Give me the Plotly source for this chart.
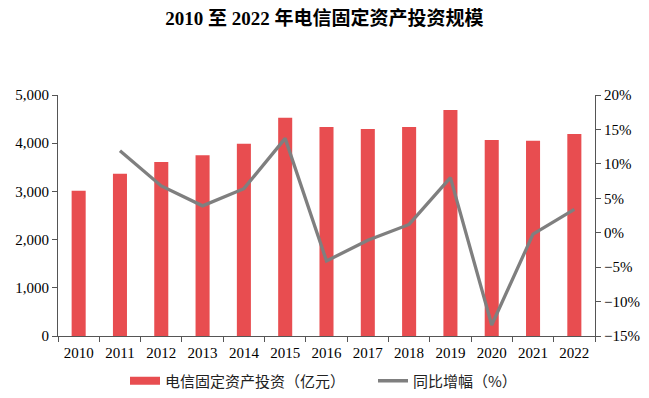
import plotly.graph_objects as go

years = ["2010", "2011", "2012", "2013", "2014", "2015", "2016",
         "2017", "2018", "2019", "2020", "2021", "2022"]
investment = [3015, 3368, 3610, 3749, 3990, 4530, 4336,
              4295, 4336, 4689, 4066, 4052, 4191]
growth = [None, 11.9, 6.8, 3.9, 6.4, 13.7, -4.1,
          -1.1, 1.2, 8.0, -13.4, -0.2, 3.4]

BAR_COLOR = "#E84D50"
LINE_COLOR = "#7F7F7F"
FONT = "Liberation Serif, Times New Roman, Noto Sans CJK SC, serif"
LEG_FONT = dict(family="Noto Sans CJK SC, sans-serif", size=15, color="#222")

fig = go.Figure()
fig.add_trace(go.Bar(
    x=years, y=investment, name="电信固定资产投资（亿元）",
    marker=dict(color=BAR_COLOR, line=dict(width=0)),
    yaxis="y", showlegend=False,
))
# legend swatch for the bars (wide rectangle like the reference)
fig.add_trace(go.Scatter(
    x=[years[0]], y=[None], name="电信固定资产投资（亿元）", mode="lines",
    line=dict(color=BAR_COLOR, width=8), yaxis="y", showlegend=True,
    legend="legend",
))
fig.add_trace(go.Scatter(
    x=years, y=growth, name="同比增幅（%）", mode="lines",
    line=dict(color=LINE_COLOR, width=3.3),
    yaxis="y2", connectgaps=False, legend="legend2",
))

fig.update_layout(
    width=649, height=398,
    margin=dict(l=58, r=54, t=95, b=62, autoexpand=False),
    paper_bgcolor="white", plot_bgcolor="white",
    font=dict(family=FONT, size=15, color="black"),
    title=dict(text="<b>2010 至 2022 年电信固定资产投资规模</b>",
               x=0.5, xanchor="center", y=1 - 18 / 398, yanchor="middle",
               font=dict(family="Liberation Serif, Noto Sans CJK SC, serif", size=19, color="black")),
    bargap=0.66,
    showlegend=True,
    legend=dict(orientation="h", xref="container", x=125 / 649, xanchor="left",
                yref="container", y=(398 - 381) / 398, yanchor="middle",
                font=LEG_FONT, itemwidth=30, bgcolor="rgba(0,0,0,0)"),
    legend2=dict(orientation="h", xref="container", x=373 / 649, xanchor="left",
                 yref="container", y=(398 - 381) / 398, yanchor="middle",
                 font=LEG_FONT, itemwidth=30, bgcolor="rgba(0,0,0,0)"),
    xaxis=dict(type="category", showline=True, linecolor="#555", linewidth=1,
               ticks="outside", ticklen=5, tickcolor="#555", tickson="boundaries",
               ticklabelstandoff=3, showgrid=False, automargin=False),
    yaxis=dict(range=[0, 5000], dtick=1000, tickformat=",", showline=True,
               linecolor="#555", linewidth=1, ticks="outside", ticklen=5,
               tickcolor="#555", showgrid=False, zeroline=False, automargin=False),
    yaxis2=dict(range=[-15, 20], dtick=5, ticksuffix="%", overlaying="y",
                side="right", showline=True, linecolor="#555", linewidth=1,
                ticks="outside", ticklen=5, tickcolor="#555", showgrid=False,
                zeroline=False, automargin=False),
)

fig.write_html("out.html", config={"displayModeBar": False},
               post_script="document.body.style.margin='0';document.body.style.padding='0';")
